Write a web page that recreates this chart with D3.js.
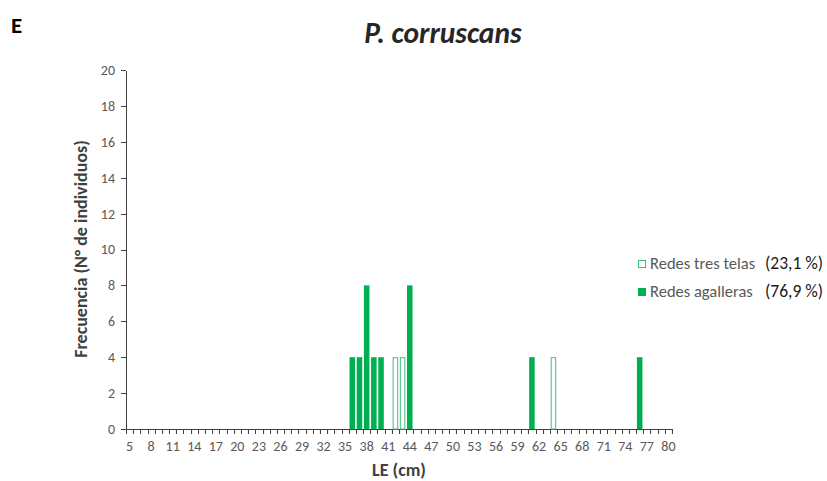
<!DOCTYPE html>
<html>
<head>
	<title>index</title>
	<meta charset="UTF-8">
	<script src="https://cdn.jsdelivr.net/npm/d3@7"></script>
	<style>
		body { margin:0; background:#fff; }
		svg { display:block; font-family: Carlito, Calibri, Lato, sans-serif; }
		.axis path, .axis line { stroke:#404040; shape-rendering:crispEdges; }
		.axis text { fill:#595959; font-size:14px; font-family: Carlito, Calibri, Lato, sans-serif; }
	</style>
</head>
<body>
<script>
	// tallas (LE, cm)
	var categories = [5,6,7,8,9,10,11,12,13,14,15,16,17,18,19,20,21,22,23,24,25,26,27,28,29,30,
		31,32,33,34,35,36,37,38,39,40,41,42,43,44,45,46,47,48,49,50,51,52,53,54,55,56,57,58,59,60,
		61,62,63,64,65,66,67,68,69,70,71,72,73,74,75,76,77,78,79,80];
	var xTickLabels = [5,8,11,14,17,20,23,26,29,32,35,38,41,44,47,50,53,56,59,62,65,68,71,74,77,80];
	var yTicks = [0,2,4,6,8,10,12,14,16,18,20];

	// only non-zero classes
	var tresTelasLE = [42, 43, 64];
	var tresTelasN  = [4, 4, 4];
	var agallerasLE = [36, 37, 38, 39, 40, 44, 61, 76];
	var agallerasN  = [4, 4, 8, 4, 4, 8, 4, 4];

	var legendNames = ["Redes tres telas", "Redes agalleras"];
	var legendPct = ["(23,1 %)", "(76,9 %)"];

	var green = "#00B050";
	var W = 827, H = 481;
	var mLeft = 126, mRight = 672, mTop = 70, mBottom = 429;

	var svg = d3.select("body").append("svg").attr("width", W).attr("height", H);

	var x = d3.scaleBand().domain(categories).range([mLeft, mRight]).padding(0);
	var y = d3.scaleLinear().domain([0, 20]).range([mBottom, mTop]);

	// y axis
	svg.append("g").attr("class", "axis")
		.attr("transform", "translate(" + mLeft + ",0)")
		.call(d3.axisLeft(y).tickValues(yTicks).tickSize(5).tickSizeOuter(0).tickPadding(6));

	// x axis: labels every 3 classes, tick marks between classes
	var gx = svg.append("g").attr("class", "axis")
		.attr("transform", "translate(0," + mBottom + ")")
		.call(d3.axisBottom(x).tickValues(xTickLabels).tickSize(0).tickSizeOuter(0).tickPadding(12));
	gx.select(".domain").attr("d", "M" + mLeft + ",0.5H" + mRight);
	var bounds = categories.map(function(c) { return x(c); }).concat([mRight]);
	gx.selectAll("line.sep").data(bounds).enter().append("line")
		.attr("class", "sep")
		.attr("x1", function(d) { return Math.round(d) + 0.5; })
		.attr("x2", function(d) { return Math.round(d) + 0.5; })
		.attr("y1", 0).attr("y2", 5);

	var gap = x.bandwidth() * 0.23;
	var bw = x.bandwidth() - gap;

	// redes agalleras (filled)
	svg.selectAll("rect.ag").data(agallerasLE).enter().append("rect")
		.attr("class", "ag")
		.attr("x", function(d) { return x(d) + gap / 2; })
		.attr("y", function(d, i) { return y(agallerasN[i]); })
		.attr("width", bw)
		.attr("height", function(d, i) { return y(0) - y(agallerasN[i]); })
		.attr("fill", green);

	// redes tres telas (hollow)
	svg.selectAll("rect.tt").data(tresTelasLE).enter().append("rect")
		.attr("class", "tt")
		.attr("x", function(d) { return x(d) + gap / 2 + 0.5; })
		.attr("y", function(d, i) { return y(tresTelasN[i]) + 0.5; })
		.attr("width", bw - 1)
		.attr("height", function(d, i) { return y(0) - y(tresTelasN[i]) - 0.5; })
		.attr("fill", "#fff")
		.attr("stroke", "#3fc07a").attr("stroke-width", 1);

	// legend
	var leg = svg.append("g").attr("transform", "translate(638,0)");
	var rowsY = [264, 292];
	leg.selectAll("rect.lg").data(legendNames).enter().append("rect")
		.attr("x", function(d, i) { return i == 0 ? 0.5 : 0; })
		.attr("y", function(d, i) { return rowsY[i] - 4 + (i == 0 ? 0.5 : 0); })
		.attr("width", function(d, i) { return i == 0 ? 7 : 8; })
		.attr("height", function(d, i) { return i == 0 ? 7 : 8; })
		.attr("fill", function(d, i) { return i == 0 ? "#fff" : green; })
		.attr("stroke", function(d, i) { return i == 0 ? "#3fc07a" : "none"; });
	leg.selectAll("text.ln").data(legendNames).enter().append("text")
		.attr("x", 12).attr("y", function(d, i) { return rowsY[i] + 5; })
		.attr("fill", "#595959").style("font-size", "16.5px")
		.text(function(d) { return d; });
	leg.selectAll("text.lp").data(legendPct).enter().append("text")
		.attr("x", 127).attr("y", function(d, i) { return rowsY[i] + 5; })
		.attr("fill", "#1a1a1a").style("font-size", "17.5px")
		.text(function(d) { return d; });

	// titles
	svg.append("text").attr("x", 443).attr("y", 43).attr("text-anchor", "middle")
		.style("font-size", "29.5px").style("font-weight", "bold").style("font-style", "italic")
		.attr("fill", "#262626").text("P. corruscans");
	svg.append("text").attr("x", 11).attr("y", 33)
		.style("font-size", "23px").style("font-weight", "bold")
		.attr("fill", "#000").text("E");
	svg.append("text").attr("transform", "translate(87,249) rotate(-90)").attr("text-anchor", "middle")
		.style("font-size", "18px").style("font-weight", "bold")
		.attr("fill", "#404040").text("Frecuencia (N° de individuos)");
	svg.append("text").attr("x", 399).attr("y", 476).attr("text-anchor", "middle")
		.style("font-size", "18px").style("font-weight", "bold")
		.attr("fill", "#404040").text("LE (cm)");
</script>
</body>
</html>
